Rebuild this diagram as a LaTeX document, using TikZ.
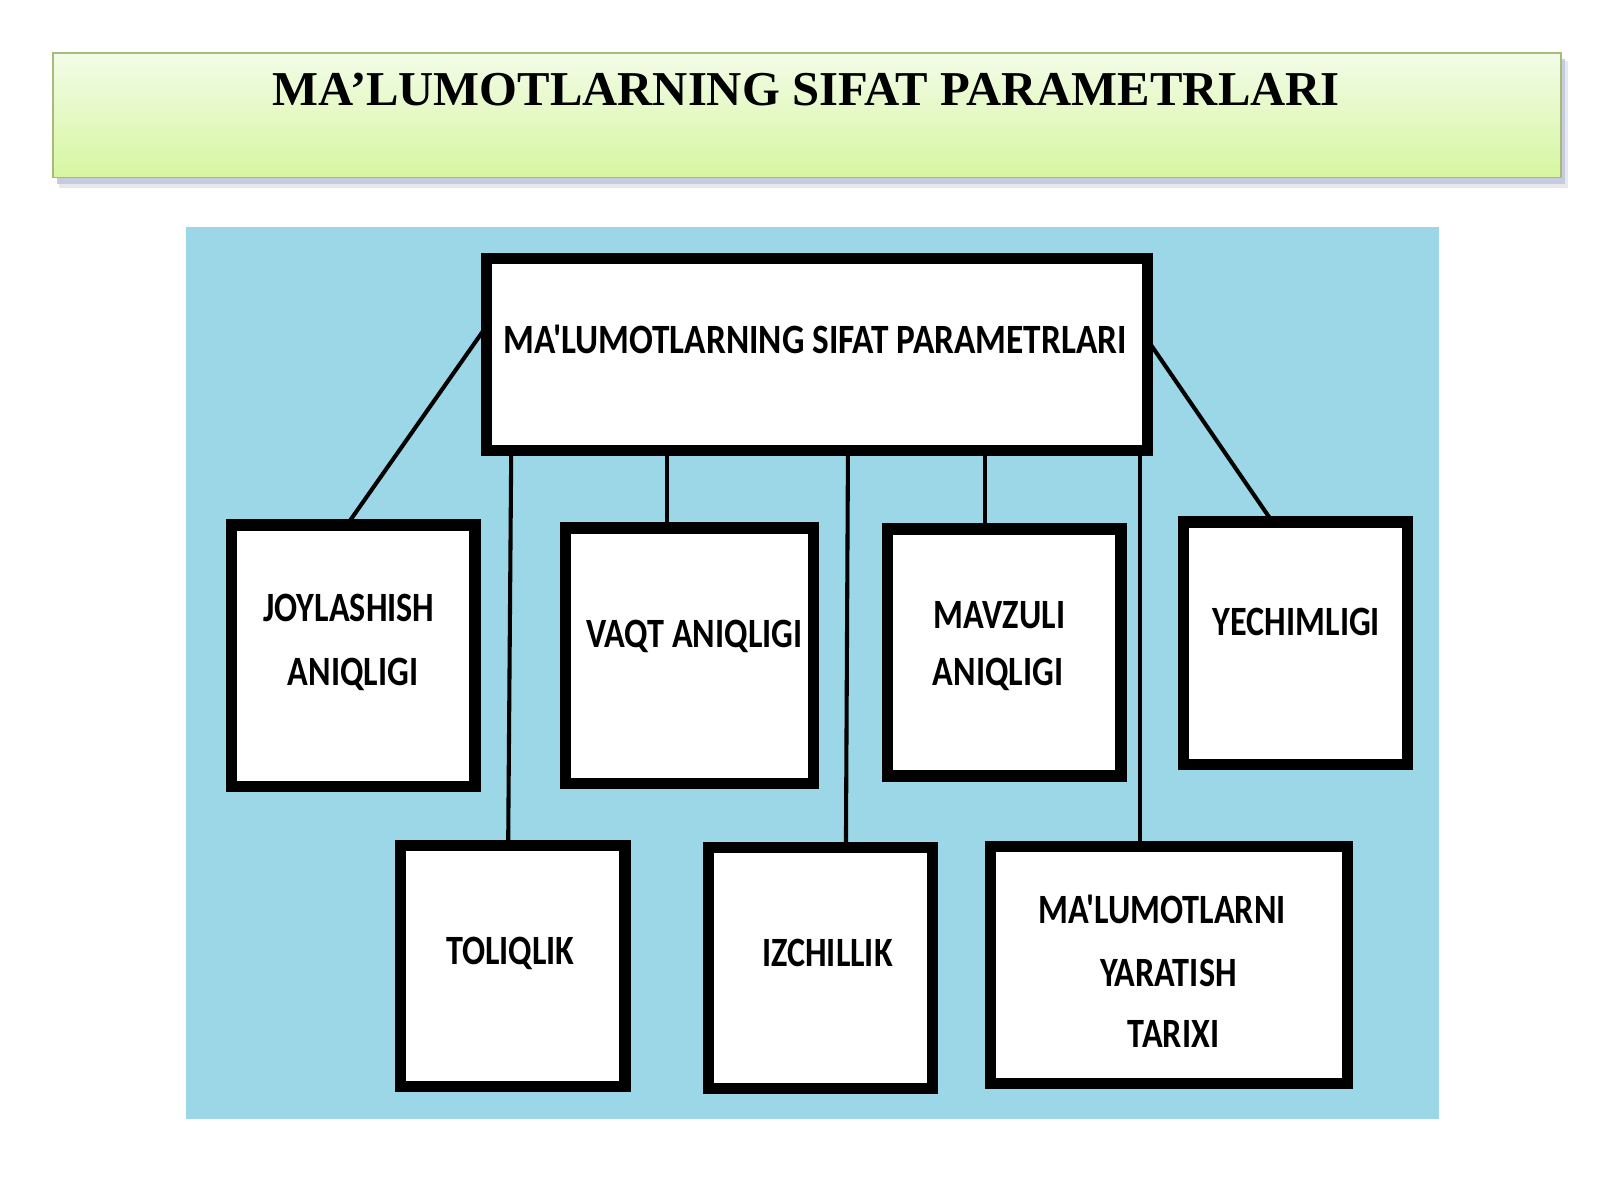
\documentclass[tikz,border=0pt]{standalone}
\usepackage{fontspec}
\usepackage{graphicx}
\setmainfont{Liberation Serif}
\newfontfamily\carl{Carlito}[Ligatures=TeXOff]
\newcommand\sy[2][1]{\scalebox{#1}[1.22]{#2}}
\definecolor{panelblue}{RGB}{155,215,231}
\definecolor{bartop}{RGB}{243,252,232}
\definecolor{barbot}{RGB}{214,246,160}
\definecolor{barline}{RGB}{165,188,125}
\definecolor{barshadow}{RGB}{200,203,222}
\begin{document}
\begin{tikzpicture}[x=1pt,y=-1pt,
  box/.style={draw=black, line width=11pt, fill=white, inner sep=0pt, outer sep=0pt, rectangle},
  conn/.style={draw=black, line width=4pt},
  lbl/.style={anchor=base, inner sep=0pt, outer sep=0pt, font=\carl\bfseries\fontsize{33.5}{40}\selectfont},
  ttl/.style={anchor=base, inner sep=0pt, font=\bfseries\fontsize{47.7}{56}\selectfont}]
\useasboundingbox (0,0) rectangle (1568,1176);
\fill[white] (0,0) rectangle (1568,1176);
% title bar
\fill[barshadow!45] (58,60) rectangle (1537,184);
\fill[barshadow] (56,58) rectangle (1534,180);
\shade[top color=bartop, bottom color=barbot, draw=barline, line width=1.5pt] (52,52) rectangle (1530,174);
\node[ttl] (title) at (790,103) {MA’LUMOTLARNING SIFAT PARAMETRLARI};
% panel
\fill[panelblue] (182,222) rectangle (1410,1097);
% boxes
\node[box, minimum width=648pt, minimum height=188pt] (main) at (800.5,347.5) {};
\node[box, minimum width=239pt, minimum height=256pt] (b1) at (346,642.5) {};
\node[box, minimum width=243pt, minimum height=250pt] (b2) at (676,642.5) {};
\node[box, minimum width=229pt, minimum height=242pt] (b3) at (984,639.5) {};
\node[box, minimum width=220pt, minimum height=238pt] (b4) at (1269.5,630.5) {};
\node[box, minimum width=220pt, minimum height=236pt] (b5) at (502.5,946.5) {};
\node[box, minimum width=219pt, minimum height=236pt] (b6) at (804,948.5) {};
\node[box, minimum width=350pt, minimum height=232pt] (b7) at (1145.5,945.5) {};
% connectors
\draw[conn] (main.west |- 0,320) -- (b1.north -| 340,0);
\draw[conn] (main.east |- 0,333) -- (b4.north -| 1247,0);
\draw[conn] (main.south -| 501,0) -- (b5.north -| 498,0);
\draw[conn] (main.south -| 654,0) -- (b2.north -| 654,0);
\draw[conn] (main.south -| 831,0) -- (b6.north -| 829,0);
\draw[conn] (main.south -| 965,0) -- (b3.north -| 965,0);
\draw[conn] (main.south -| 1117,0) -- (b7.north -| 1117,0);
% texts
\node[lbl] (t0) at (799,346) {\sy[1.032]{MA'LUMOTLARNING SIFAT PARAMETRLARI}};
\node[lbl] (t1a) at (342,609) {\sy{JOYLASHISH}};
\node[lbl] (t1b) at (346,672) {\sy{ANIQLIGI}};
\node[lbl] (t2) at (680.5,635) {\sy{VAQT ANIQLIGI}};
\node[lbl] (t3a) at (979.5,616) {\sy{MAVZULI}};
\node[lbl] (t3b) at (978,672) {\sy{ANIQLIGI}};
\node[lbl] (t4) at (1270.5,623) {\sy{YECHIMLIGI}};
\node[lbl] (t5) at (500,945) {\sy{TOLIQLIK}};
\node[lbl] (t6) at (811,947) {\sy{IZCHILLIK}};
\node[lbl] (t7a) at (1139,905) {\sy{MA'LUMOTLARNI}};
\node[lbl] (t7b) at (1145,967) {\sy{YARATISH}};
\node[lbl] (t7c) at (1150,1027) {\sy{TARIXI}};
\end{tikzpicture}
\end{document}
